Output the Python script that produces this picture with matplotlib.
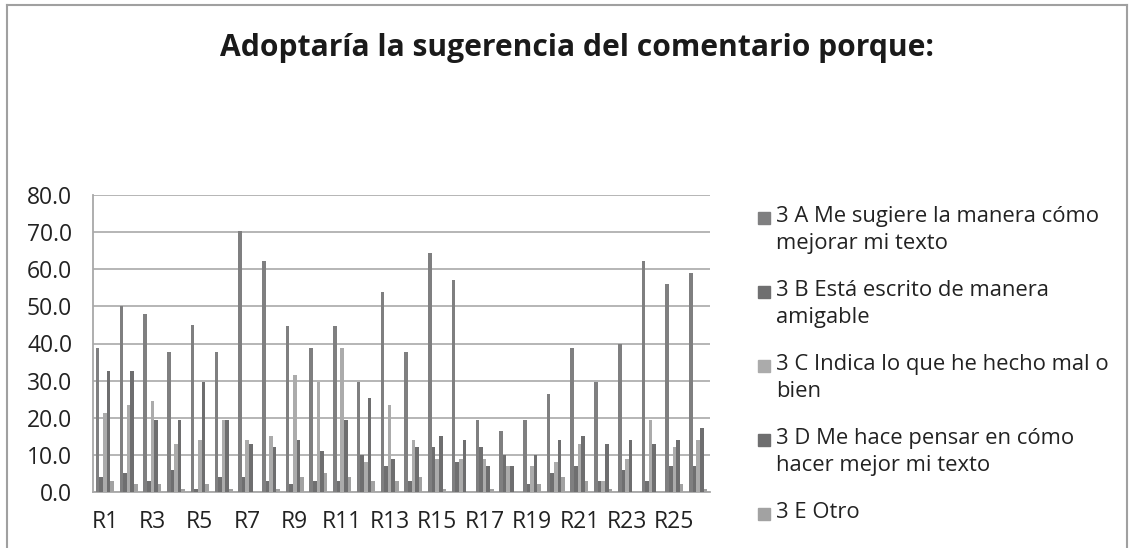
import numpy as np
import matplotlib
matplotlib.use('Agg')
import matplotlib.pyplot as plt
from matplotlib.patches import Rectangle
from matplotlib.lines import Line2D

plt.rcParams['font.family'] = ['Open Sans', 'DejaVu Sans']

categories = ['R%d' % i for i in range(1, 27)]

serie_a = [38.8, 50.0, 48.0, 37.7, 45.0, 37.7, 70.3, 62.1, 44.8, 38.7, 44.8, 29.5, 53.9,
           37.7, 64.3, 57.1, 19.3, 16.3, 19.3, 26.3, 38.7, 29.5, 40.0, 62.1, 56.1, 59.0]
serie_b = [4.0, 5.0, 3.0, 6.0, 0.9, 4.0, 4.0, 3.0, 2.1, 3.0, 3.0, 9.9, 7.0,
           3.0, 12.1, 8.1, 12.1, 9.9, 2.1, 5.0, 7.0, 3.0, 6.0, 3.0, 7.0, 7.0]
serie_c = [21.3, 23.4, 24.4, 13.0, 14.1, 19.3, 14.1, 15.2, 31.5, 29.5, 38.7, 8.1, 23.4,
           14.1, 9.0, 9.0, 9.0, 7.0, 7.0, 8.1, 13.0, 3.0, 9.0, 19.3, 12.1, 14.1]
serie_d = [32.6, 32.6, 19.3, 19.3, 29.6, 19.3, 13.0, 12.1, 14.1, 11.1, 19.3, 25.3, 9.0,
           12.1, 15.2, 14.1, 7.0, 7.0, 9.9, 14.1, 15.2, 13.0, 14.1, 13.0, 14.1, 17.2]
serie_e = [3.0, 2.1, 2.1, 0.9, 2.1, 0.9, 0.0, 0.9, 4.0, 5.0, 4.0, 3.0, 3.0,
           4.0, 0.9, 0.0, 0.9, 0.0, 2.1, 4.0, 3.0, 0.9, 0.0, 0.0, 2.1, 0.9]

series = [serie_a, serie_b, serie_c, serie_d, serie_e]
labels = ['3 A Me sugiere la manera cómo\nmejorar mi texto',
          '3 B Está escrito de manera\namigable',
          '3 C Indica lo que he hecho mal o\nbien',
          '3 D Me hace pensar en cómo\nhacer mejor mi texto',
          '3 E Otro']
colors = ['#7f7f80', '#6f6f70', '#ababab', '#6e6e6f', '#a2a2a2']

fig = plt.figure(figsize=(11.3, 5.48), dpi=100)
ax = fig.add_axes([93 / 1130, 1 - 492 / 548, 617 / 1130, 297 / 548])

x = np.arange(len(categories))
w = 0.152
for i, vals in enumerate(series):
    ax.bar(x + (i - 2) * w, vals, width=w, color=colors[i], zorder=3)

ax.set_xlim(-0.5, len(categories) - 0.5)
ax.set_ylim(0, 80)
ax.set_yticks(np.arange(0, 81, 10))
ax.set_yticklabels(['%.1f' % v for v in np.arange(0, 81, 10)], fontsize=16.5, color='#222222')
ax.set_xticks(x[::2])
ax.set_xticklabels(categories[::2], fontsize=16.5, color='#222222')
ax.tick_params(axis='x', length=0, pad=13)
ax.tick_params(axis='y', length=0, pad=15)
ax.grid(axis='y', color='#b0b0b0', linewidth=1.3, zorder=0)
for s in ['top', 'right']:
    ax.spines[s].set_visible(False)
ax.spines['left'].set_color('#a8a8a8')
ax.spines['bottom'].set_color('#a8a8a8')
ax.spines['left'].set_linewidth(1.3)
ax.spines['bottom'].set_linewidth(1.3)

fig.text(577 / 1130, 1 - 48 / 548, 'Adoptaría la sugerencia del comentario porque:',
         ha='center', va='center', fontsize=21.6, fontweight='bold', color='#1a1a1a')

# leyenda dibujada a mano (cuadro alineado con la primera linea)
y0 = 218
for i, lab in enumerate(labels):
    yy = y0 + i * 74
    fig.patches.append(Rectangle((758 / 1130, 1 - (yy + 6) / 548), 12 / 1130, 12 / 548,
                                 transform=fig.transFigure, color=colors[i]))
    fig.text(776 / 1130, 1 - (yy - 12) / 548, lab, ha='left', va='top',
             fontsize=15.8, color='#222222', linespacing=1.38)

# marco exterior
fig.add_artist(Line2D([7 / 1130, 7 / 1130], [0, 1 - 5 / 548], transform=fig.transFigure,
                      color='#a0a0a0', linewidth=1.5))
fig.add_artist(Line2D([7 / 1130, 1127 / 1130], [1 - 5 / 548, 1 - 5 / 548],
                      transform=fig.transFigure, color='#a0a0a0', linewidth=1.5))
fig.add_artist(Line2D([1127 / 1130, 1127 / 1130], [0, 1 - 5 / 548], transform=fig.transFigure,
                      color='#a0a0a0', linewidth=1.5))

fig.savefig('out.png', dpi=100)
